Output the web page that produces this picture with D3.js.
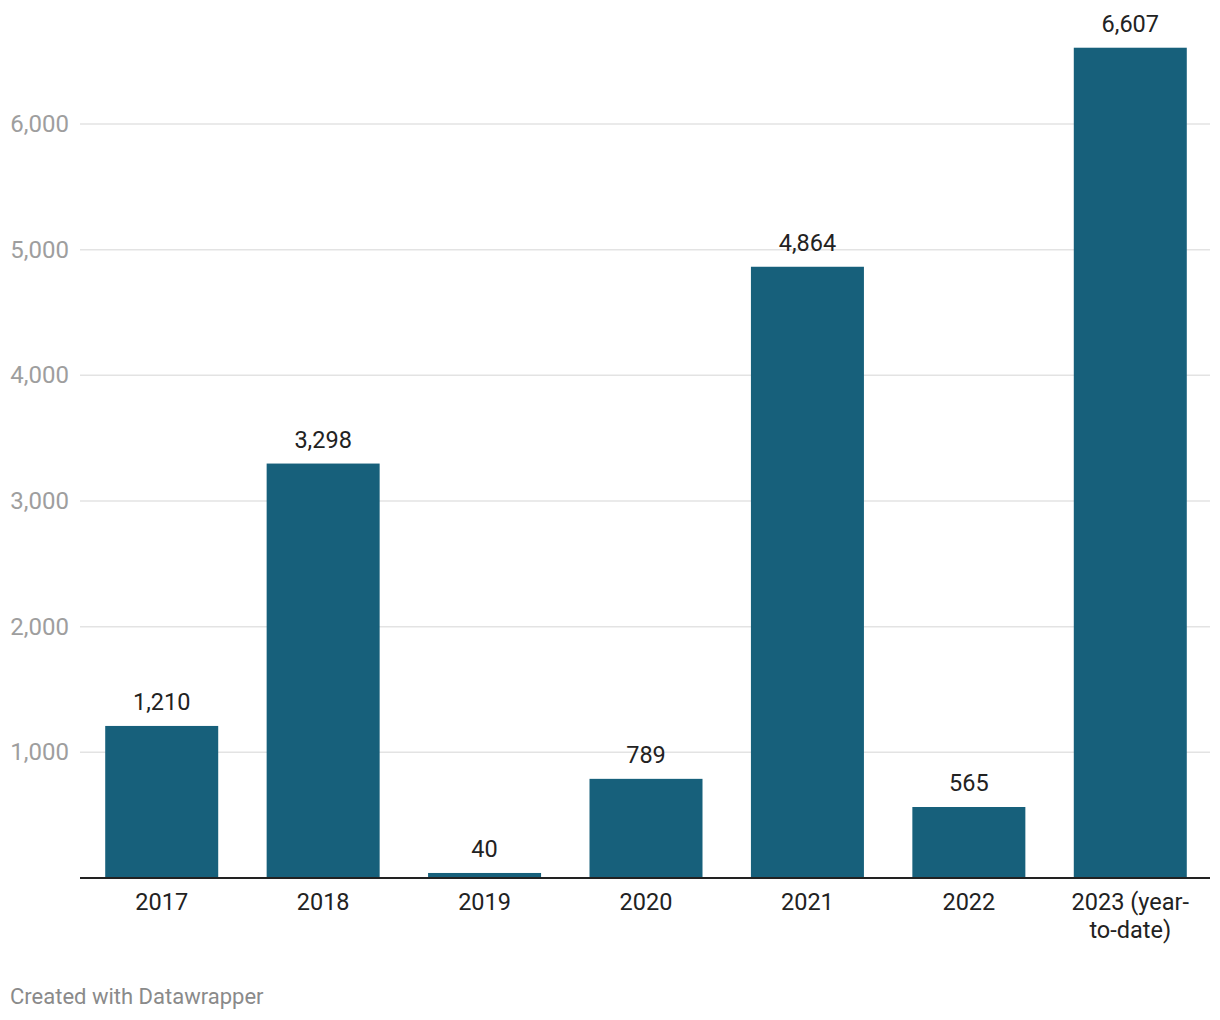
<!DOCTYPE html>
<html><head><meta charset="utf-8">
<script src="https://cdn.jsdelivr.net/npm/d3@7"></script>
<style>body{margin:0;background:#fff;font-family:Roboto,sans-serif}</style>
</head><body>
<svg id="c" width="1220" height="1020"></svg>
<script>
const categories = ["2017","2018","2019","2020","2021","2022","2023 (year-|to-date)"];
const values = [1210,3298,40,789,4864,565,6607];
const yTicks = [1000,2000,3000,4000,5000,6000];

const svg = d3.select("#c");
const x = d3.scaleBand().domain(categories).range([81,1211]).paddingInner(0.3).paddingOuter(0.15);
const y = d3.scaleLinear().domain([0,6000]).range([878,124]);
const fmt = d3.format(",");

// gridlines
const g = svg.append("g");
g.selectAll("line.grid").data(yTicks).join("line")
  .attr("x1",80).attr("x2",1210).attr("y1",d=>y(d)).attr("y2",d=>y(d))
  .attr("stroke","#e3e3e3").attr("stroke-width",1.5);
g.selectAll("text.yl").data(yTicks).join("text")
  .attr("x",69).attr("y",d=>y(d)+8).attr("text-anchor","end")
  .attr("font-size",24).attr("fill","#9e9e9e").text(d=>fmt(d));

// bars
svg.selectAll("rect").data(values).join("rect")
  .attr("x",(d,i)=>x(categories[i])).attr("width",x.bandwidth())
  .attr("y",d=>y(d)).attr("height",d=>y(0)-y(d)).attr("fill","#17607b");

// value labels
svg.selectAll("text.v").data(values).join("text")
  .attr("x",(d,i)=>x(categories[i])+x.bandwidth()/2).attr("y",d=>y(d)-15.5)
  .attr("text-anchor","middle").attr("font-size",23.5).attr("fill","#222").text(d=>fmt(d));

// baseline
svg.append("line").attr("x1",80).attr("x2",1210).attr("y1",y(0)).attr("y2",y(0))
  .attr("stroke","#222").attr("stroke-width",2);

// x labels
const xl = svg.selectAll("text.x").data(categories).join("text")
  .attr("text-anchor","middle").attr("font-size",23.5).attr("fill","#222");
xl.each(function(d){
  const t = d3.select(this);
  d.split("|").forEach((s,k)=>{
    t.append("tspan").attr("x",x(d)+x.bandwidth()/2).attr("y",909.5+k*28).text(s);
  });
});

svg.append("text").attr("x",10).attr("y",1004).attr("font-size",22).attr("fill","#8a8a8a")
  .text("Created with Datawrapper");
</script>
</body></html>
